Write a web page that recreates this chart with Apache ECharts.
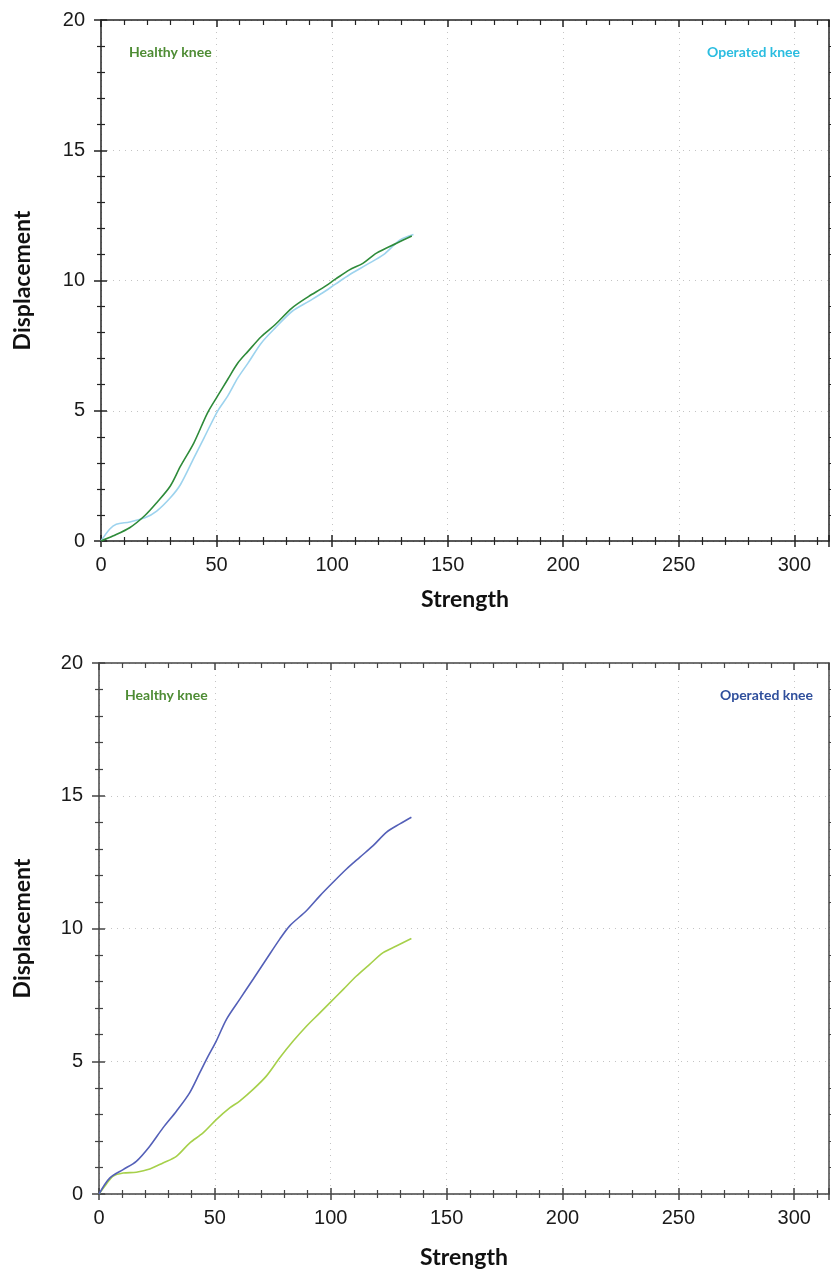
<!DOCTYPE html>
<html>
<head>
<meta charset="utf-8">
<title>Healthy vs operated knee</title>
<script src="https://cdn.jsdelivr.net/npm/echarts@6/dist/echarts.min.js"></script>
<style>
  html, body { margin: 0; padding: 0; background: #fff; }
  #chart { width: 831px; height: 1271px; }
</style>
</head>
<body>
<div id="chart"></div>
<script>
// [strength, displacement]
const topHealthy = [[0,0],[5.1,0.19],[12.4,0.51],[19,0.98],[24.1,1.47],[30,2.11],[34.4,2.87],[40.2,3.77],[46.1,4.92],[50.4,5.56],[54.8,6.2],[59.2,6.83],[63.6,7.28],[69.4,7.85],[75.3,8.3],[82.6,8.94],[89.9,9.39],[95.8,9.71],[101.6,10.06],[107.5,10.41],[113.3,10.66],[119.2,11.05],[127.9,11.43],[134.5,11.71]];
const topOperated = [[0,0],[3.7,0.45],[6.6,0.64],[12.4,0.73],[19,0.89],[24.1,1.15],[30,1.66],[34.4,2.17],[40.2,3.19],[44.6,3.96],[50.4,4.98],[54.8,5.56],[59.2,6.26],[63.6,6.83],[69.4,7.6],[75.3,8.17],[82.6,8.81],[89.9,9.2],[95.8,9.52],[101.6,9.87],[107.5,10.22],[114.8,10.6],[122.1,10.98],[129.4,11.56],[135.2,11.77]];
const bottomHealthy = [[0,0],[3.2,0.38],[6,0.67],[10.4,0.79],[16.1,0.82],[21.9,0.94],[27.6,1.17],[33.4,1.42],[39.1,1.92],[44.9,2.3],[50.6,2.8],[56.4,3.24],[60.7,3.5],[66.5,3.94],[72.2,4.44],[78,5.13],[83.7,5.75],[89.5,6.32],[95.3,6.82],[99.6,7.2],[105.3,7.7],[111.1,8.21],[116.8,8.65],[122.6,9.09],[128.3,9.34],[134.8,9.62]];
const bottomOperated = [[0,0],[4.6,0.6],[10.4,0.92],[16.1,1.23],[21.9,1.8],[27.6,2.49],[33.4,3.12],[39.1,3.81],[43.5,4.57],[47.1,5.19],[50.6,5.76],[55,6.58],[60.7,7.33],[66.5,8.09],[72.2,8.84],[78,9.6],[82.3,10.1],[89.5,10.67],[95.3,11.23],[101,11.74],[106.8,12.24],[112.5,12.68],[118.3,13.12],[124,13.62],[129.8,13.94],[134.8,14.19]];

// axis ranges and steps
const xMin = 0, xMax = 315, xStep = 50;
const yMin = 0, yMax = 20, yStep = 5;
const seriesNames = ['Healthy knee', 'Operated knee'];

const chart = echarts.init(document.getElementById('chart'));

const labelFont = { fontFamily: 'Liberation Sans', fontSize: 20, color: '#1a1a1a' };
const nameFont = { fontFamily: 'Lato', fontWeight: 'bold', fontSize: 23, color: '#111' };
const gridLine = { show: true, lineStyle: { type: [1, 5], color: '#c4c4c4', width: 1 } };

// ticks cross the axis line, so every side gets an outer and an inner axis
function xAxes(grid, color, nameGap) {
  const base = { type: 'value', gridIndex: grid, min: xMin, max: xMax, interval: xStep };
  return [
    Object.assign({}, base, {
      position: 'bottom', name: 'Strength', nameLocation: 'middle', nameGap: nameGap, nameTextStyle: nameFont,
      axisLine: { show: true, onZero: false, lineStyle: { color: color, width: 1.5 } },
      axisTick: { show: true, inside: false, length: 6, lineStyle: { color: color, width: 1.5 } },
      minorTick: { show: true, splitNumber: 5, length: 4, lineStyle: { color: color, width: 1.2 } },
      axisLabel: Object.assign({ margin: 14, showMaxLabel: false,
        formatter: v => (v % xStep === 0 ? String(v) : '') }, labelFont),
      splitLine: gridLine
    }),
    Object.assign({}, base, {
      position: 'bottom',
      axisLine: { show: false, onZero: false },
      axisTick: { show: true, inside: true, length: 6, lineStyle: { color: color, width: 1.5 } },
      minorTick: { show: true, splitNumber: 5, length: 4, lineStyle: { color: color, width: 1.2 } },
      axisLabel: { show: false }, splitLine: { show: false }
    }),
    Object.assign({}, base, {
      position: 'top',
      axisLine: { show: true, onZero: false, lineStyle: { color: color, width: 1.5 } },
      axisTick: { show: true, inside: true, length: 7, lineStyle: { color: color, width: 1.5 } },
      minorTick: { show: true, splitNumber: 5, length: 5, lineStyle: { color: color, width: 1.2 } },
      axisLabel: { show: false }, splitLine: { show: false }
    })
  ];
}

function yAxes(grid, color, nameGap) {
  const base = { type: 'value', gridIndex: grid, min: yMin, max: yMax, interval: yStep };
  return [
    Object.assign({}, base, {
      position: 'left', name: 'Displacement', nameLocation: 'middle', nameGap: nameGap, nameTextStyle: nameFont,
      axisLine: { show: true, onZero: false, lineStyle: { color: color, width: 1.5 } },
      axisTick: { show: true, inside: false, length: 7, lineStyle: { color: color, width: 1.5 } },
      minorTick: { show: true, splitNumber: 5, length: 4, lineStyle: { color: color, width: 1.2 } },
      axisLabel: Object.assign({ margin: 16 }, labelFont),
      splitLine: gridLine
    }),
    Object.assign({}, base, {
      position: 'left',
      axisLine: { show: false, onZero: false },
      axisTick: { show: true, inside: true, length: 6, lineStyle: { color: color, width: 1.5 } },
      minorTick: { show: true, splitNumber: 5, length: 4, lineStyle: { color: color, width: 1.2 } },
      axisLabel: { show: false }, splitLine: { show: false }
    }),
    Object.assign({}, base, {
      position: 'right',
      axisLine: { show: true, onZero: false, lineStyle: { color: color, width: 1.5 } },
      axisTick: { show: false },
      minorTick: { show: true, splitNumber: 5, length: 5, lineStyle: { color: color, width: 1.2 } },
      axisLabel: { show: false }, splitLine: { show: false }
    })
  ];
}

function line(name, data, color, xi, yi) {
  return {
    name: name, type: 'line', data: data, xAxisIndex: xi, yAxisIndex: yi,
    showSymbol: false, smooth: 0.3, lineStyle: { color: color, width: 1.6 }, itemStyle: { color: color }
  };
}

function label(text, left, top, color) {
  return { text: text, left: left, top: top, padding: 0,
    textStyle: { fontFamily: 'Lato', fontWeight: 'bold', fontSize: 14, color: color } };
}

chart.setOption({
  animation: false,
  backgroundColor: '#fff',
  title: [
    label(seriesNames[0], 129, 45, '#4e8c34'),
    label(seriesNames[1], 707, 45, '#2bbde0'),
    label(seriesNames[0], 125, 688, '#4e8c34'),
    label(seriesNames[1], 720, 688, '#2f4f9c')
  ],
  grid: [
    { left: 101, top: 20, width: 728, height: 521, outerBoundsMode: 'none' },
    { left: 99, top: 663, width: 730, height: 531, outerBoundsMode: 'none' }
  ],
  xAxis: xAxes(0, '#222', 47).concat(xAxes(1, '#444', 52)),
  yAxis: yAxes(0, '#222', 67).concat(yAxes(1, '#444', 65)),
  series: [
    line(seriesNames[1], topOperated, '#9dd3ee', 0, 0),
    line(seriesNames[0], topHealthy, '#2e8b3a', 0, 0),
    line(seriesNames[0], bottomHealthy, '#a6d04a', 3, 3),
    line(seriesNames[1], bottomOperated, '#5460b8', 3, 3)
  ]
});
</script>
</body>
</html>
